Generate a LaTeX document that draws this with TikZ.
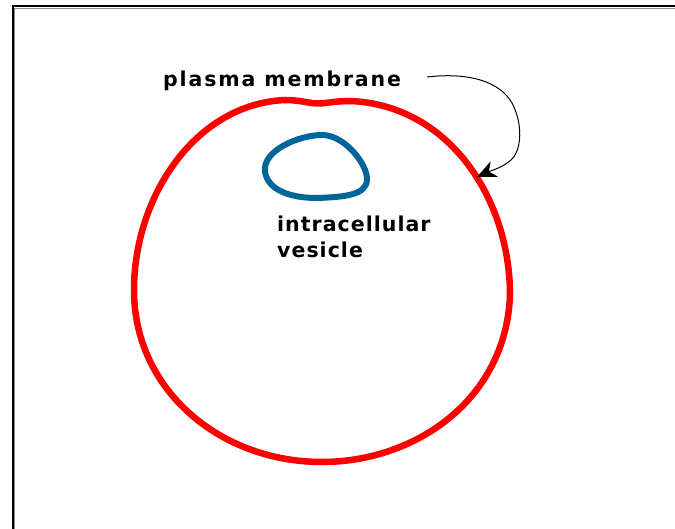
\documentclass[tikz,border=0pt]{standalone}
\usepackage{fontspec}
\setmainfont{DejaVu Sans}
\newfontfamily\lblfont[LetterSpace=9]{DejaVu Sans Bold}
\newfontfamily\lblfontb[LetterSpace=5]{DejaVu Sans Bold}
\usetikzlibrary{arrows.meta}
\definecolor{membred}{RGB}{255,0,0}
\definecolor{vesblue}{RGB}{0,102,153}
\tikzset{
  membrane/.style={draw=membred,line width=6.5pt,line join=round},
  vesicle/.style={draw=vesblue,line width=6pt,line join=round},
  lbl/.style={anchor=base west,inner sep=0pt,font=\lblfont\fontsize{20.5}{24}\selectfont},
  lblb/.style={anchor=base west,inner sep=0pt,font=\lblfontb\fontsize{20.5}{24}\selectfont},
  pointer/.style={draw=black,line width=1pt,-{Stealth[length=19pt,width=17pt,inset=6pt]}},
  frame/.style={draw=black,line width=2pt},
  frameshadow/.style={draw=black!45,line width=1pt}
}
\begin{document}
\begin{tikzpicture}[x=1pt,y=-1pt]
\useasboundingbox (0,0) rectangle (675,529);
% frame (left and top only)
\draw[frameshadow] (14.8,8) -- (14.8,529);
\draw[frameshadow] (14,8.3) -- (675,8.3);
\draw[frame] (12.5,529) -- (12.5,6) -- (675,6);
% cell membrane
\draw[membrane] (134,290) .. controls (134,197) and (195,104) .. (285,100)
  .. controls (300,100) and (310,103.5) .. (318,103.5)
  .. controls (326,103.5) and (335,101) .. (350,101)
  .. controls (450,105) and (510,200) .. (510,295)
  .. controls (506,400) and (415,462) .. (322,462)
  .. controls (220,462) and (134,390) .. cycle;
% vesicle
\draw[vesicle] (265,172) .. controls (262,150) and (300,135) .. (322,135)
  .. controls (345,135) and (368,165) .. (367,180)
  .. controls (366,195) and (345,197) .. (317,198)
  .. controls (290,198) and (268,190) .. cycle;
% labels
\node[lbl] (pm) at (163,87) {plasma membrane};
\node[lblb] (iv1) at (277,232) {intracellular};
\node[lblb] (iv2) at (277,258) {vesicle};
% pointer
\coordinate (astart) at (427,77);
\coordinate (tip) at (477,177);
\draw[pointer] (astart) .. controls (470,72) and (500,82) .. (512,103)
  .. controls (523,124) and (522,150) .. (511,160)
  .. controls (502,168) and (490,171) .. (tip);
\end{tikzpicture}
\end{document}
